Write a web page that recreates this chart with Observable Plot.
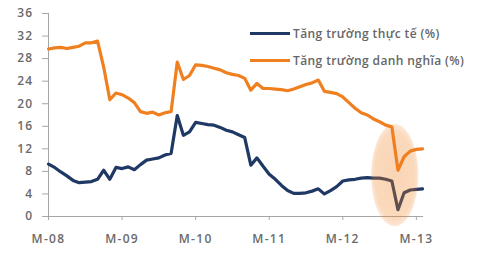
<!DOCTYPE html>
<html>
<head>
<meta charset="utf-8">
<script src="https://cdn.jsdelivr.net/npm/d3@7"></script>
<script src="https://cdn.jsdelivr.net/npm/@observablehq/plot@0.6"></script>
<style>
  html, body { margin: 0; padding: 0; background: #fff; }
  #wrap { position: relative; width: 493px; height: 253px; overflow: hidden; font-family: "Open Sans", sans-serif; }
  #wrap svg text { fill: #6a6a6a; font-weight: 600; letter-spacing: 1.3px; }
  .lg { position: absolute; left: 250px; display: flex; align-items: center; font-size: 12px; color: #666; font-weight: 600; letter-spacing: 0.4px; white-space: nowrap; }
  .lg .sw { width: 40px; height: 3px; margin-right: 3px; }
</style>
</head>
<body>
<div id="wrap"></div>
<script>
// Monthly data, Jan 2008 .. Feb 2013 (month index 0..61)
const seriesNames = ["Tăng trường thực tế (%)", "Tăng trường danh nghĩa (%)"];
const seriesColors = ["#1f3864", "#f0801f"];
const realGrowth = [
  9.3, 8.7, 7.9, 7.2, 6.4, 6.0, 6.1, 6.2, 6.6, 8.2,
  6.6, 8.7, 8.5, 8.8, 8.3, 9.2, 10.0, 10.2, 10.4, 10.9,
  11.2, 17.9, 14.4, 15.0, 16.7, 16.5, 16.3, 16.2, 15.8, 15.3,
  15.0, 14.5, 14.0, 9.1, 10.4, 8.9, 7.5, 6.6, 5.5, 4.6,
  4.1, 4.1, 4.2, 4.5, 4.9, 4.0, 4.6, 5.3, 6.3, 6.5,
  6.6, 6.8, 6.9, 6.8, 6.8, 6.6, 6.3, 1.2, 4.2, 4.7,
  4.8, 4.9
];
const nominalGrowth = [
  29.7, 29.9, 30.0, 29.8, 30.0, 30.2, 30.8, 30.8, 31.1, 26.5,
  20.7, 21.9, 21.6, 21.0, 20.2, 18.6, 18.3, 18.5, 18.0, 18.4,
  18.6, 27.4, 24.3, 25.0, 26.9, 26.8, 26.6, 26.3, 26.0, 25.5,
  25.2, 25.0, 24.5, 22.4, 23.6, 22.7, 22.7, 22.6, 22.5, 22.3,
  22.6, 23.0, 23.4, 23.7, 24.2, 22.2, 22.0, 21.8, 21.2, 20.2,
  19.2, 18.4, 18.0, 17.3, 16.8, 16.2, 15.9, 8.2, 10.6, 11.6,
  11.9, 12.0
];
const tickMonths = [0, 12, 24, 36, 48, 60];
const tickLabels = ["M-08", "M-09", "M-10", "M-11", "M-12", "M-13"];
const yTicks = [0, 4, 8, 12, 16, 20, 24, 28, 32, 36];
// highlighted region (month index / value bounds)
const highlight = {x1: 52.7, x2: 60.4, y1: -1.8, y2: 16.3};

const rows = [];
realGrowth.forEach((v, i) => rows.push({m: i, v, s: seriesNames[0]}));
nominalGrowth.forEach((v, i) => rows.push({m: i, v, s: seriesNames[1]}));

const plot = Plot.plot({
  width: 493,
  height: 253,
  marginLeft: 48,
  marginRight: 71,
  marginTop: 13,
  marginBottom: 37,
  style: {background: "transparent", color: "#a6a6a6", fontSize: "12px", fontFamily: "Open Sans, sans-serif", overflow: "visible"},
  x: {domain: [0, 61], ticks: tickMonths, tickFormat: d => tickLabels[tickMonths.indexOf(d)], tickSize: 4, tickPadding: 14, line: true, label: null},
  y: {domain: [0, 36], ticks: yTicks, tickSize: 6, tickPadding: 9, line: true, label: null},
  color: {domain: seriesNames, range: seriesColors},
  marks: [
    Plot.line(rows, {x: "m", y: "v", z: "s", stroke: "s", strokeWidth: 3.2, strokeLinejoin: "round", strokeLinecap: "round"})
  ]
});

// draw the highlight ellipse (semi-transparent, over the lines) using the plot's own scales
const sx = plot.scale("x"), sy = plot.scale("y");
const px = v => sx.range[0] + (v - sx.domain[0]) / (sx.domain[1] - sx.domain[0]) * (sx.range[1] - sx.range[0]);
const py = v => sy.range[0] + (v - sy.domain[0]) / (sy.domain[1] - sy.domain[0]) * (sy.range[1] - sy.range[0]);
const ex1 = px(highlight.x1), ex2 = px(highlight.x2), ey1 = py(highlight.y1), ey2 = py(highlight.y2);
const ns = "http://www.w3.org/2000/svg";
const defs = document.createElementNS(ns, "defs");
defs.innerHTML = '<radialGradient id="hlg" cx="50%" cy="50%" r="50%"><stop offset="0%" stop-color="#f0801f" stop-opacity="0.33"/><stop offset="85%" stop-color="#f0801f" stop-opacity="0.30"/><stop offset="100%" stop-color="#f0801f" stop-opacity="0.18"/></radialGradient>';
plot.appendChild(defs);
const ell = document.createElementNS(ns, "ellipse");
ell.setAttribute("cx", (ex1 + ex2) / 2);
ell.setAttribute("cy", (ey1 + ey2) / 2);
ell.setAttribute("rx", Math.abs(ex2 - ex1) / 2);
ell.setAttribute("ry", Math.abs(ey2 - ey1) / 2);
ell.setAttribute("fill", "url(#hlg)");
plot.appendChild(ell);

const wrap = document.getElementById("wrap");
wrap.appendChild(plot);

// legend
const legendTops = [25, 52];
seriesNames.forEach((name, i) => {
  const row = document.createElement("div");
  row.className = "lg";
  row.style.top = legendTops[i] + "px";
  const sw = document.createElement("span");
  sw.className = "sw";
  sw.style.background = seriesColors[i];
  const tx = document.createElement("span");
  tx.textContent = name;
  row.appendChild(sw);
  row.appendChild(tx);
  wrap.appendChild(row);
});
</script>
</body>
</html>
